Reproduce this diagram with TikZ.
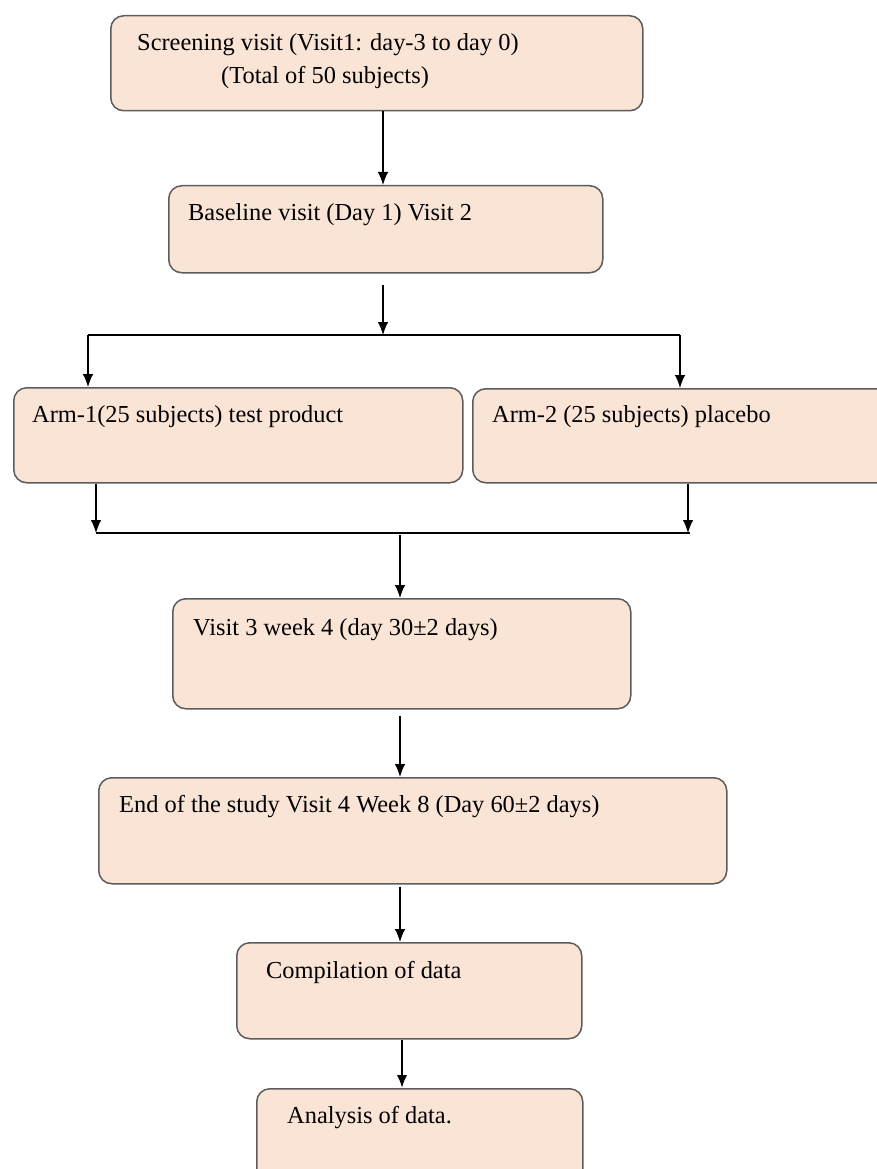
\documentclass[tikz,border=0pt]{standalone}
\usepackage{fontspec}
\setmainfont{Liberation Serif}
\usetikzlibrary{positioning,arrows.meta}
\definecolor{boxfill}{HTML}{FAE4D6}
\definecolor{boxline}{HTML}{5C5C5C}
\tikzset{
    stage/.style={draw=boxline,line width=1.5pt,fill=boxfill,rounded corners=13pt,anchor=north west,inner sep=0pt},
    lbl/.style={anchor=west,inner sep=0pt,font=\fontsize{24.4}{28}\selectfont},
    flow/.style={-{Latex[length=13pt,width=10.5pt]},line width=1.2pt},
    bar/.style={line width=1.2pt}
}
\begin{document}
\begin{tikzpicture}[x=1pt,y=-1pt]
        \useasboundingbox (0,0) rectangle (876,1169);
        %% boxes
        \node[stage,minimum width=532pt,minimum height=95pt] (screen) at (110,15) {};
        \node[stage,minimum width=434pt,minimum height=87pt] (base) at (168,185) {};
        \node[stage,minimum width=449pt,minimum height=95pt] (arm1) at (13,387) {};
        \node[stage,minimum width=420pt,minimum height=94pt] (arm2) at (472,388) {};
        \node[stage,minimum width=458pt,minimum height=110pt] (visit3) at (172,598) {};
        \node[stage,minimum width=628pt,minimum height=106pt] (endstudy) at (98,777) {};
        \node[stage,minimum width=345pt,minimum height=96pt] (compile) at (236,942) {};
        \node[stage,minimum width=326pt,minimum height=110pt] (analysis) at (256,1088) {};
        %% texts
        \node[lbl] (screentxt) at ([shift={(27pt,-30pt)}]screen.north west) {Screening visit (Visit1: day-3 to day 0)};
        \node[lbl] (screentxtb) at ([shift={(111pt,-63pt)}]screen.north west) {(Total of 50 subjects)};
        \node[lbl] (basetxt) at ([shift={(20pt,-30pt)}]base.north west) {Baseline visit (Day 1) Visit 2};
        \node[lbl] (arm1txt) at ([shift={(19pt,-30pt)}]arm1.north west) {Arm-1(25 subjects) test product};
        \node[lbl] (arm2txt) at ([shift={(20pt,-29pt)}]arm2.north west) {Arm-2 (25 subjects) placebo};
        \node[lbl] (visit3txt) at ([shift={(21pt,-32pt)}]visit3.north west) {Visit 3 week 4 (day 30±2 days)};
        \node[lbl] (endtxt) at ([shift={(21pt,-30pt)}]endstudy.north west) {End of the study Visit 4 Week 8 (Day 60±2 days)};
        \node[lbl] (compiletxt) at ([shift={(30pt,-30pt)}]compile.north west) {Compilation of data};
        \node[lbl] (analysistxt) at ([shift={(31pt,-30pt)}]analysis.north west) {Analysis of data.};
        %% split to the two arms
        \coordinate (split) at (383,335);
        \coordinate (splitL) at (88,335);
        \coordinate (splitR) at (680,335);
        \draw[flow] (screen.south -| split) -- (split |- base.north);
        \draw[flow] ([yshift=-11pt]base.south -| split) -- (split);
        \draw[bar] (splitL) -- (splitR);
        \draw[flow] (splitL) -- (splitL |- arm1.north);
        \draw[flow] (splitR) -- (splitR |- arm2.north);
        %% join after the arms
        \coordinate (join) at (400,533);
        \coordinate (joinL) at (96,533);
        \coordinate (joinR) at (690,533);
        \draw[flow] (joinL |- arm1.south) -- (joinL);
        \draw[flow] ([xshift=-2pt]joinR |- arm2.south) -- ([xshift=-2pt]joinR);
        \draw[bar] (joinL) -- (joinR);
        \draw[flow] ([yshift=-2pt]join) -- (join |- visit3.north);
        %% down to the end
        \draw[flow] ([yshift=-6pt]visit3.south -| join) -- (join |- endstudy.north);
        \draw[flow] ([yshift=-2pt]endstudy.south -| join) -- (join |- compile.north);
        \draw[flow,line width=2.4pt] ([xshift=2pt]compile.south -| join) -- ([xshift=2pt]join |- analysis.north);
    \end{tikzpicture}
\end{document}
